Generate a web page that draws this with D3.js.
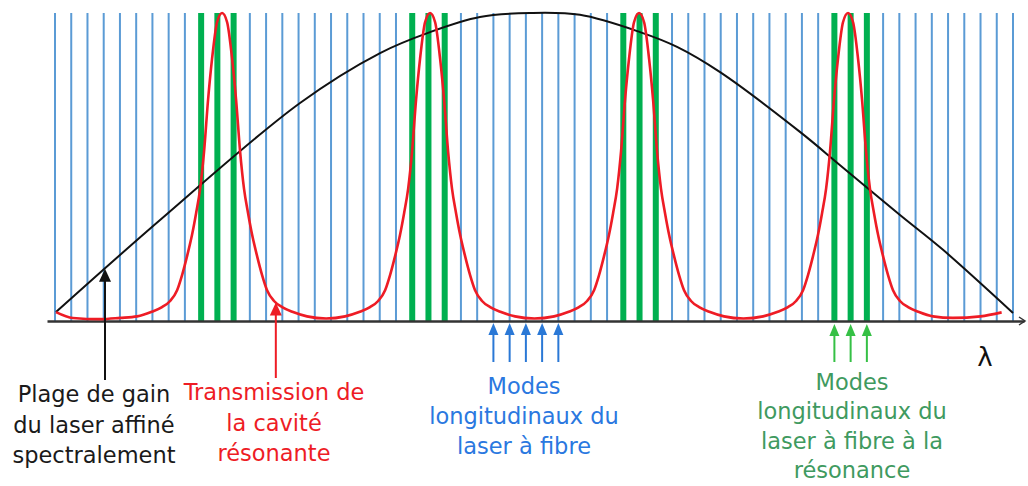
<!DOCTYPE html>
<html>
<head>
<meta charset="utf-8">
<script src="https://cdn.jsdelivr.net/npm/d3@7"></script>
<style>
  html, body { margin: 0; padding: 0; background: #fff; }
  svg { display: block; }
  text { font-family: "DejaVu Sans", "Noto Sans", sans-serif; }
</style>
</head>
<body>
<svg id="chart" width="1028" height="486"></svg>
<script>
// Longitudinal modes of the fibre laser (mode index along λ)
const fiberModes = d3.range(0, 60);
// Modes that coincide with the resonant cavity transmission peaks
const resonantModes = [9, 10, 11, 22, 23, 24, 35, 36, 37, 48, 49, 50];
// Modes marked by arrows below the axis
const fiberArrowModes = [27, 28, 29, 30, 31];
const resonantArrowModes = [48, 49, 50];

// Spectrally narrowed gain range of the laser: [mode position, relative gain]
const gainX = [0.06, 6.47, 15.09, 20.02, 23.1, 26.17, 29.25, 32.33, 36.03, 38.31, 40.96, 45.88, 48.35, 52.04, 54.69, 59.0];
const gainY = [0.029, 0.328, 0.708, 0.87, 0.938, 0.987, 1.0, 0.994, 0.938, 0.89, 0.808, 0.614, 0.506, 0.344, 0.231, 0.026];

// Transmission of the resonant cavity: [mode position, relative transmission]
const transX = [
  0.06, 1.1, 2.8, 4.0,
  5.06, 5.92, 6.59, 7.09, 7.52, 7.83, 8.13, 8.44, 8.69, 8.94, 9.18, 9.43, 9.67, 9.98, 10.29,
  10.60, 10.91, 11.15, 11.40, 11.64, 11.89, 12.14, 12.45, 12.75, 13.06, 13.49, 13.99, 14.66, 15.52, 16.7,
  17.87, 18.73, 19.40, 19.90, 20.33, 20.64, 20.94, 21.25, 21.50, 21.75, 21.99, 22.24, 22.48, 22.79, 23.10,
  23.41, 23.72, 23.96, 24.21, 24.45, 24.70, 24.95, 25.26, 25.56, 25.87, 26.30, 26.80, 27.47, 28.33, 29.53,
  30.74, 31.60, 32.27, 32.77, 33.20, 33.51, 33.81, 34.12, 34.37, 34.62, 34.86, 35.11, 35.35, 35.66, 35.97,
  36.28, 36.59, 36.83, 37.08, 37.32, 37.57, 37.82, 38.13, 38.43, 38.74, 39.17, 39.67, 40.34, 41.20, 42.4,
  43.61, 44.47, 45.14, 45.64, 46.07, 46.38, 46.68, 46.99, 47.24, 47.49, 47.73, 47.98, 48.22, 48.53, 48.84,
  49.15, 49.46, 49.70, 49.95, 50.19, 50.44, 50.69, 51.00, 51.30, 51.61, 52.04, 52.54, 53.21, 54.07, 55.3, 57.0, 58.3
];
const transY = [
  0.029, 0.01, 0.006, 0.01,
  0.015, 0.029, 0.045, 0.065, 0.10, 0.15, 0.21, 0.28, 0.35, 0.43, 0.55, 0.72, 0.85, 0.97, 1.0,
  0.97, 0.85, 0.72, 0.55, 0.43, 0.35, 0.28, 0.21, 0.15, 0.10, 0.065, 0.045, 0.029, 0.015, 0.008,
  0.015, 0.029, 0.045, 0.065, 0.10, 0.15, 0.21, 0.28, 0.35, 0.43, 0.55, 0.72, 0.85, 0.97, 1.0,
  0.97, 0.85, 0.72, 0.55, 0.43, 0.35, 0.28, 0.21, 0.15, 0.10, 0.065, 0.045, 0.029, 0.015, 0.008,
  0.015, 0.029, 0.045, 0.065, 0.10, 0.15, 0.21, 0.28, 0.35, 0.43, 0.55, 0.72, 0.85, 0.97, 1.0,
  0.97, 0.85, 0.72, 0.55, 0.43, 0.35, 0.28, 0.21, 0.15, 0.10, 0.065, 0.045, 0.029, 0.015, 0.008,
  0.015, 0.029, 0.045, 0.065, 0.10, 0.15, 0.21, 0.28, 0.35, 0.43, 0.55, 0.72, 0.85, 0.97, 1.0,
  0.97, 0.85, 0.72, 0.55, 0.43, 0.35, 0.28, 0.21, 0.15, 0.10, 0.065, 0.045, 0.029, 0.015, 0.01, 0.015, 0.028
];

// Caption texts
const gainLabel = ["Plage de gain", "du laser affiné", "spectralement"];
const transLabel = ["Transmission de", "la cavité", "résonante"];
const fiberLabel = ["Modes", "longitudinaux du", "laser à fibre"];
const resonantLabel = ["Modes", "longitudinaux du", "laser à fibre à la", "résonance"];
const axisLabel = "λ";

const svg = d3.select("#chart");
const x = d3.scaleLinear().domain([0, 59]).range([55, 1013]);
const y = d3.scaleLinear().domain([0, 1]).range([321, 13]);

const colors = {
  mode: "#5b9bd5",
  resonant: "#00b050",
  trans: "#ee1c25",
  gain: "#111",
  fiberArrow: "#2a78d6",
  resArrow: "#35c045",
  fiberText: "#2a78e0",
  resText: "#3f9a60"
};

// Fibre laser modes (blue) and resonant modes (green)
svg.append("g").selectAll("line")
  .data(fiberModes.filter(m => !resonantModes.includes(m)))
  .join("line")
  .attr("x1", d => x(d)).attr("x2", d => x(d))
  .attr("y1", y(1)).attr("y2", y(0))
  .attr("stroke", colors.mode).attr("stroke-width", 2);

svg.append("g").selectAll("rect")
  .data(resonantModes)
  .join("rect")
  .attr("x", d => x(d) - 3).attr("width", 6)
  .attr("y", y(1)).attr("height", y(0) - y(1))
  .attr("fill", colors.resonant);

// Wavelength axis
const axisG = svg.append("g").attr("transform", `translate(0,${y(0)})`);
axisG.call(d3.axisBottom(d3.scaleLinear().domain([0, 1]).range([47, 1024])).ticks(0).tickSize(0));
axisG.select(".domain").attr("stroke", "#333").attr("stroke-width", 2.5);
axisG.append("path")
  .attr("d", "M1019,-4 L1025,0 L1019,4")
  .attr("fill", "none").attr("stroke", "#333").attr("stroke-width", 1.5);

// Gain curve
const gainPts = gainX.map((v, i) => [v, gainY[i]]);
svg.append("path")
  .attr("d", d3.line().x(d => x(d[0])).y(d => y(d[1])).curve(d3.curveCatmullRom.alpha(0.5))(gainPts))
  .attr("fill", "none").attr("stroke", colors.gain).attr("stroke-width", 2);

// Cavity transmission curve
const transPts = transX.map((v, i) => [v, transY[i]]);
svg.append("path")
  .attr("d", d3.line().x(d => x(d[0])).y(d => y(d[1])).curve(d3.curveMonotoneX)(transPts))
  .attr("fill", "none").attr("stroke", colors.trans).attr("stroke-width", 2.6);

// Upward arrow helper
function arrow(g, cx, yTip, yBase, color, hw, hh, sw) {
  g.append("line")
    .attr("x1", cx).attr("x2", cx)
    .attr("y1", yBase).attr("y2", yTip + hh - 1)
    .attr("stroke", color).attr("stroke-width", sw);
  g.append("path")
    .attr("d", `M${cx},${yTip} L${cx + hw},${yTip + hh} L${cx - hw},${yTip + hh} Z`)
    .attr("fill", color);
}

const arrows = svg.append("g");
arrow(arrows, x(3.08), y(0.17), 380, "#111", 6, 13, 2);
arrow(arrows, x(13.6), y(0.06), 378, colors.trans, 6, 13, 2);
fiberArrowModes.forEach(m => arrow(arrows, x(m), y(0) + 2, 362, colors.fiberArrow, 5, 12, 2));
resonantArrowModes.forEach(m => arrow(arrows, x(m), y(0) + 3, 362, colors.resArrow, 5, 12, 2));

// Captions
function caption(lines, cx, y0, color, step) {
  const t = svg.append("text")
    .attr("text-anchor", "middle")
    .attr("fill", color)
    .style("font-size", "22.5px");
  lines.forEach((s, i) => {
    t.append("tspan").attr("x", cx).attr("y", y0 + i * step).text(s);
  });
}
caption(gainLabel, 94, 402, "#1a1a1a", 30.5);
caption(transLabel, 274, 400, colors.trans, 30.5);
caption(fiberLabel, 524, 394, colors.fiberText, 30);
caption(resonantLabel, 852, 390, colors.resText, 29.3);

svg.append("text")
  .attr("x", 985).attr("y", 366)
  .attr("text-anchor", "middle")
  .attr("fill", "#111")
  .style("font-size", "26px")
  .text(axisLabel);
</script>
</body>
</html>
